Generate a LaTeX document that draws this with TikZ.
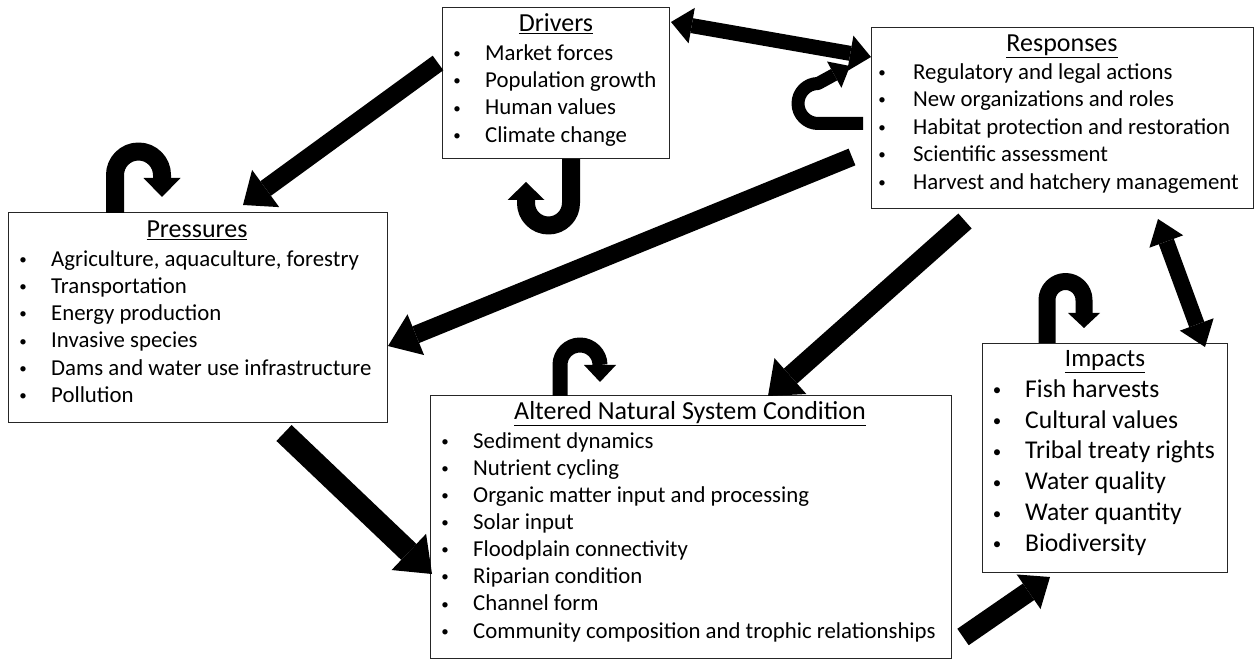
\documentclass[tikz,border=0pt]{standalone}
\usepackage{fontspec}
\setmainfont{Carlito}
\usetikzlibrary{arrows.meta}
\begin{document}
\begin{tikzpicture}[x=1pt,y=-1pt,
  box/.style={draw=black!85,line width=1.3pt,inner sep=0pt,anchor=north west},
  ttl/.style={anchor=mid,inner sep=0pt,font=\fontsize{26}{30}\selectfont},
  bigttl/.style={anchor=mid,inner sep=0pt,font=\fontsize{26}{30}\selectfont},
  impttl/.style={anchor=mid,inner sep=0pt,font=\fontsize{25}{30}\selectfont},
  itm/.style={anchor=mid west,inner sep=0pt,font=\fontsize{22.8}{27}\selectfont},
  blt/.style={anchor=center,inner sep=0pt,yshift=3pt,font=\fontsize{15}{18}\selectfont},
  bigitm/.style={anchor=mid west,inner sep=0pt,font=\fontsize{25.6}{30}\selectfont},
  bigblt/.style={anchor=center,inner sep=0pt,yshift=3pt,font=\fontsize{17}{20}\selectfont},
  blk/.style n args={3}{draw=black,line width=#1,line join=round,arrows={-Triangle[width=#2,length=#3,line width=0pt]}},
  dblk/.style n args={3}{draw=black,line width=#1,arrows={Triangle[width=#2,length=#3,line width=0pt]-Triangle[width=#2,length=#3,line width=0pt]}}
]
\useasboundingbox (0,0) rectangle (1254,660);
\fill[white] (0,0) rectangle (1254,660);

% boxes
\node[box,minimum width=227pt,minimum height=151pt] (drivers) at (442,7) {};
\node[box,minimum width=382pt,minimum height=181pt] (responses) at (871,27) {};
\node[box,minimum width=379pt,minimum height=210pt] (pressures) at (8,212) {};
\node[box,minimum width=521pt,minimum height=263pt] (altered) at (430,395) {};
\node[box,minimum width=245pt,minimum height=229pt] (impacts) at (982,343) {};

% Drivers
\node[ttl] (dtitle) at (556,29) {\underline{Drivers}};
\foreach \t [count=\i] in {Market forces, Population growth, Human values, Climate change} {
  \node[blt] (db\i) at (457,{58+27.3*(\i-1)}) {\textbullet};
  \node[itm] (dt\i) at (485,{58+27.3*(\i-1)}) {\t};
}
% Responses
\node[ttl] (rtitle) at (1062,49) {\underline{Responses}};
\foreach \t [count=\i] in {Regulatory and legal actions, New organizations and roles, Habitat protection and restoration, Scientific assessment, Harvest and hatchery management} {
  \node[blt] (rb\i) at (882,{77+27.5*(\i-1)}) {\textbullet};
  \node[itm] (rt\i) at (913,{77+27.5*(\i-1)}) {\t};
}
% Pressures
\node[ttl] (ptitle) at (197,235) {\underline{Pressures}};
\foreach \t [count=\i] in {{Agriculture, aquaculture, forestry}, Transportation, Energy production, Invasive species, Dams and water use infrastructure, Pollution} {
  \node[blt] (pb\i) at (23,{264+27.2*(\i-1)}) {\textbullet};
  \node[itm] (pt\i) at (51,{264+27.2*(\i-1)}) {\t};
}
% Altered
\node[bigttl] (atitle) at (690,417) {\underline{Altered Natural System Condition}};
\foreach \t [count=\i] in {Sediment dynamics, Nutrient cycling, Organic matter input and processing, Solar input, Floodplain connectivity, Riparian condition, Channel form, Community composition and trophic relationships} {
  \node[blt] (ab\i) at (445,{446+27.1*(\i-1)}) {\textbullet};
  \node[itm] (at\i) at (473,{446+27.1*(\i-1)}) {\t};
}
% Impacts
\node[impttl] (ititle) at (1105,364) {\underline{Impacts}};
\foreach \t [count=\i] in {Fish harvests, Cultural values, Tribal treaty rights, Water quality, Water quantity, Biodiversity} {
  \node[bigblt] (ib\i) at (997,{395+30.8*(\i-1)}) {\textbullet};
  \node[bigitm] (it\i) at (1025,{395+30.8*(\i-1)}) {\t};
}

% straight block arrows
\coordinate (dpA) at (438,63);   \coordinate (dpB) at (243,205);
\draw[blk={18pt}{46pt}{28pt}] (dpA) -- (dpB);
\coordinate (drA) at (671,22);   \coordinate (drB) at (871,57);
\draw[dblk={15pt}{36pt}{21pt}] (drA) -- (drB);
\coordinate (rpA) at (852,157);  \coordinate (rpB) at (388,346);
\draw[blk={18pt}{44pt}{30pt}] (rpA) -- (rpB);
\coordinate (raA) at (965,221);  \coordinate (raB) at (768,396);
\draw[blk={20pt}{48pt}{30pt}] (raA) -- (raB);
\coordinate (paA) at (284,433);  \coordinate (paB) at (432,574);
\draw[blk={22pt}{50pt}{32pt}] (paA) -- (paB);
\coordinate (aiA) at (963,637);  \coordinate (aiB) at (1050,577);
\draw[blk={20pt}{42pt}{26pt}] (aiA) -- (aiB);
\coordinate (riA) at (1158,219); \coordinate (riB) at (1205,347);
\draw[dblk={16pt}{36pt}{24pt}] (riA) -- (riB);

% self loops
\coordinate (ploopA) at (115,213); \coordinate (ploopB) at (162,197);
\draw[blk={18pt}{37pt}{19pt}] (ploopA) -- (115,175) arc[start angle=180,end angle=360,radius=23.5] -- (ploopB);
\coordinate (dloopA) at (571,159); \coordinate (dloopB) at (526,182);
\draw[blk={18pt}{37pt}{18pt}] (dloopA) -- (571,203) arc[start angle=0,end angle=180,radius=22.5] -- (dloopB);
\coordinate (aloopA) at (560,396); \coordinate (aloopB) at (600,382);
\draw[blk={15pt}{32pt}{17pt}] (aloopA) -- (560,365) arc[start angle=180,end angle=360,radius=20] -- (aloopB);
\coordinate (iloopA) at (1047,343); \coordinate (iloopB) at (1084,328);
\draw[blk={17pt}{32pt}{15pt}] (iloopA) -- (1047,300) arc[start angle=180,end angle=360,radius=18.5] -- (iloopB);
\coordinate (rloopA) at (863,123.5); \coordinate (rloopB) at (850,66);
\draw[blk={13pt}{30pt}{18pt}] (rloopA) -- (818,123.5) arc[start angle=90,end angle=270,radius=20] -- (rloopB);
\end{tikzpicture}
\end{document}
